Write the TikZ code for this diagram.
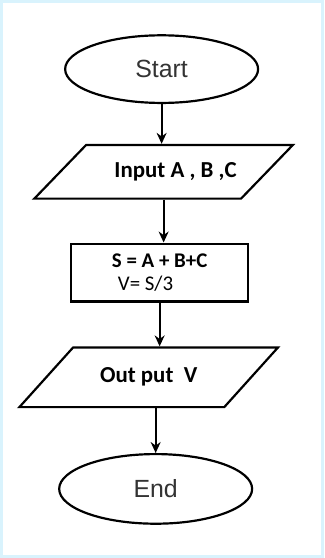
\documentclass[tikz,border=0pt]{standalone}
\usepackage{fontspec}
\usepackage{tikz}
\usetikzlibrary{positioning,arrows.meta,shapes.geometric}
\newfontfamily\arialfont{Liberation Sans}
\newfontfamily\calfont{Carlito}

\begin{document}
\begin{tikzpicture}[x=1pt, y=1pt,
  term/.style={draw, ellipse, line width=2.2pt, minimum width=194pt, minimum height=68pt,
               font=\arialfont\fontsize{25}{28}\selectfont, text=black!80, inner sep=0pt},
  io/.style={draw, trapezium, trapezium left angle=46, trapezium right angle=134,
             trapezium stretches body=true, minimum width=260pt,
             text height=16pt, text depth=5pt, inner ysep=16.5pt, inner xsep=0pt,
             line width=2.2pt, font=\calfont\bfseries\fontsize{23}{26}\selectfont},
  proc/.style={draw, rectangle, line width=2.4pt, minimum width=178pt, minimum height=58pt,
               align=left, font=\calfont\fontsize{21}{24}\selectfont, inner sep=0pt},
  flow/.style={-{Stealth[length=11pt, width=10pt]}, line width=2.2pt}]
% frame
\draw[cyan!15, line width=3pt] (0,0) rectangle (323,-558);
\useasboundingbox (0,0) rectangle (323,-558);
\node[term] (st) at (161,-68) {Start};
\node[io, below=40pt of st, xshift=2pt] (in) {\hspace*{24pt}Input A , B ,C};
\node[proc, below=43pt of in, xshift=-4pt] (sv) {\textbf{S = A + B+C}\\\hspace*{6pt}V= S/3};
\node[io, below=44pt of sv, xshift=-11pt, inner ysep=19.5pt,
      trapezium left angle=48, trapezium right angle=132] (out) {Out put\ \ V};
\node[term, below=45pt of out, xshift=7pt, minimum height=70pt] (en) {End};
\foreach \a/\b in {st/in, in/sv, sv/out}{
  \draw[flow] (\a.south) -- (\a.south |- \b.north);
}
\draw[flow] (en.north |- out.south) -- (en.north);
\end{tikzpicture}
\end{document}
